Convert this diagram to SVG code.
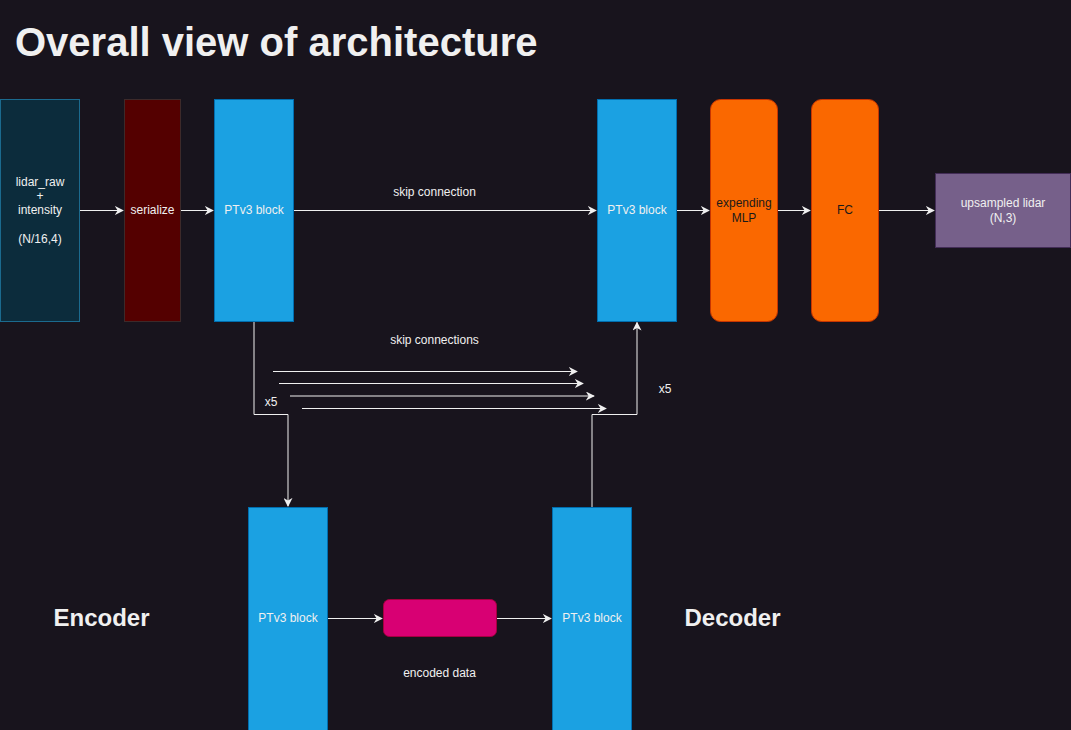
<svg xmlns="http://www.w3.org/2000/svg" width="1071" height="730" viewBox="0 0 1071 730">
<defs>
<style>
.t{font-family:"Liberation Sans",Arial,sans-serif;font-size:12px;fill:#f0f0f0;text-anchor:middle}
.dk{fill:#1a1a1a}
.h{font-family:"Liberation Sans",Arial,sans-serif;font-weight:bold;fill:#f0f0f0}
.e{fill:none;stroke:#f0f0f0;stroke-width:1}
.pt{fill:#1ba1e2;stroke:#006eaf}
.or{fill:#fa6800;stroke:#c73500}
</style>
<marker id="a" viewBox="0 0 10 10" refX="9" refY="5" markerWidth="9" markerHeight="9" markerUnits="userSpaceOnUse" orient="auto">
<path d="M0,0 L10,5 L0,10 L3,5 Z" fill="#f0f0f0"/>
</marker>
</defs>
<rect x="0" y="0" width="1071" height="730" fill="#18141d"/>
<text class="h" x="15" y="56" font-size="40">Overall view of architecture</text>

<g id="connectors">
<path class="e" d="M79.5,210.5 H123" marker-end="url(#a)"/>
<path class="e" d="M180.5,210.5 H213" marker-end="url(#a)"/>
<path class="e" d="M293.5,210.5 H596" marker-end="url(#a)"/>
<path class="e" d="M676.5,210.5 H709" marker-end="url(#a)"/>
<path class="e" d="M777.5,210.5 H810" marker-end="url(#a)"/>
<path class="e" d="M878.5,210.5 H934" marker-end="url(#a)"/>
<path class="e" d="M254,321.5 V414.5 H288 V506" marker-end="url(#a)"/>
<path class="e" d="M592,507 V414.5 H637 V322.5" marker-end="url(#a)"/>
<path class="e" d="M273,371.5 H577" marker-end="url(#a)"/>
<path class="e" d="M279,383.5 H583" marker-end="url(#a)"/>
<path class="e" d="M290,396 H594" marker-end="url(#a)"/>
<path class="e" d="M302,408.5 H606" marker-end="url(#a)"/>
<path class="e" d="M327.5,618.5 H382" marker-end="url(#a)"/>
<path class="e" d="M496.5,618.5 H551" marker-end="url(#a)"/>
</g>

<g id="lidar">
<rect x="0.5" y="99.5" width="79" height="222" fill="#0c2c3c" stroke="#1b6a8e"/>
<text class="t" x="40" y="186">lidar_raw</text>
<text class="t" x="40" y="200">+</text>
<text class="t" x="40" y="214">intensity</text>
<text class="t" x="40" y="243">(N/16,4)</text>
</g>
<g id="serialize">
<rect x="124.5" y="99.5" width="56" height="222" fill="#540000" stroke="#3d2a2a"/>
<text class="t" x="152.5" y="214">serialize</text>
</g>
<g id="ptv3-top-left">
<rect class="pt" x="214.5" y="99.5" width="79" height="222"/>
<text class="t" x="254" y="214">PTv3 block</text>
</g>
<g id="ptv3-top-right">
<rect class="pt" x="597.5" y="99.5" width="79" height="222"/>
<text class="t" x="637" y="214">PTv3 block</text>
</g>
<g id="mlp">
<rect class="or" x="710.5" y="99.5" width="67" height="222" rx="10"/>
<text class="t dk" x="744" y="207">expending</text>
<text class="t dk" x="744" y="222">MLP</text>
</g>
<g id="fc">
<rect class="or" x="811.5" y="99.5" width="67" height="222" rx="10"/>
<text class="t dk" x="845" y="214">FC</text>
</g>
<g id="upsampled">
<rect x="935.5" y="173.5" width="135" height="74" fill="#76608a" stroke="#432d57"/>
<text class="t" x="1003" y="207">upsampled lidar</text>
<text class="t" x="1003" y="222">(N,3)</text>
</g>
<g id="ptv3-encoder">
<rect class="pt" x="248.5" y="507.5" width="79" height="230"/>
<text class="t" x="288" y="622">PTv3 block</text>
</g>
<g id="ptv3-decoder">
<rect class="pt" x="552.5" y="507.5" width="79" height="230"/>
<text class="t" x="592" y="622">PTv3 block</text>
</g>
<g id="encoded">
<rect x="383.5" y="599.5" width="113" height="37" rx="6" fill="#d80073" stroke="#a50040"/>
</g>

<g id="labels">
<text class="t" x="434.5" y="196">skip connection</text>
<text class="t" x="434.5" y="344">skip connections</text>
<text class="t" x="271" y="406">x5</text>
<text class="t" x="665" y="393">x5</text>
<text class="t" x="439.5" y="677">encoded data</text>
<text class="h" x="101.5" y="626" font-size="24" text-anchor="middle">Encoder</text>
<text class="h" x="732.5" y="626" font-size="24" text-anchor="middle">Decoder</text>
</g>
</svg>
